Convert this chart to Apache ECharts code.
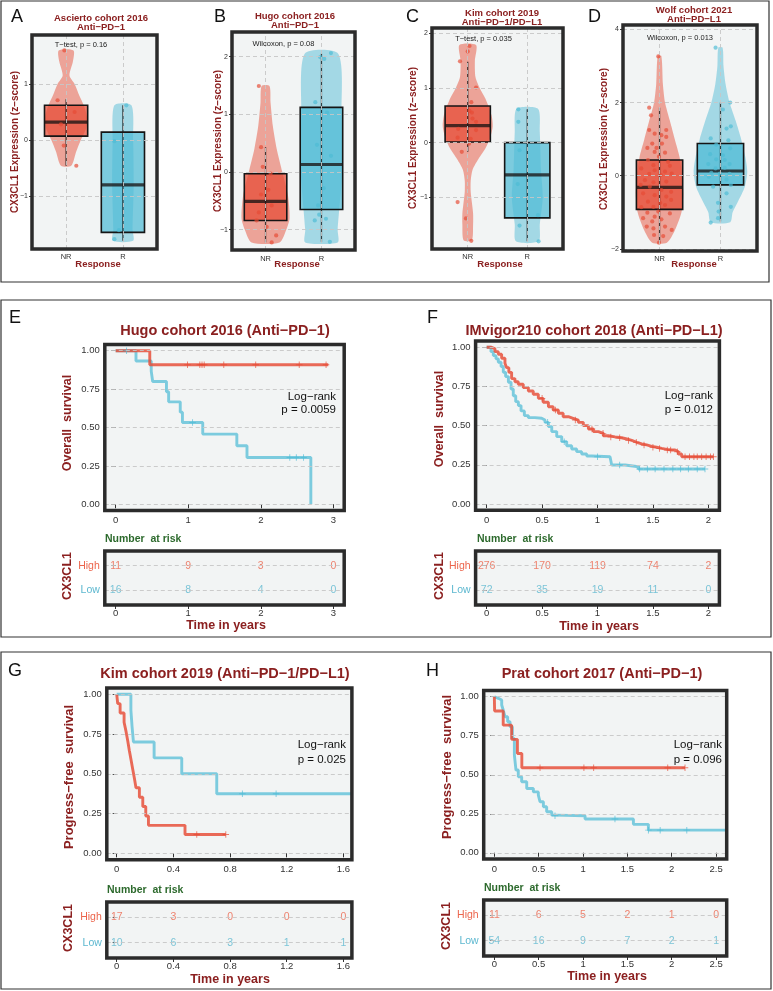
<!DOCTYPE html>
<html><head><meta charset="utf-8">
<script src="https://cdn.jsdelivr.net/npm/echarts@6.0.0/dist/echarts.min.js"></script>
<style>html,body{margin:0;padding:0;background:#fff}#c{width:773px;height:991px}</style>
</head><body><div id="c"></div>
<script>
// ---------------- DATA ----------------
const responseCats = ['NR', 'R'];
const riskRows = ['Low', 'High'];

// Panel A (Ascierto 2016)  box: [x, low, q1, median, q3, high]
const boxA = [[1, -0.46, 0.07, 0.32, 0.62, 0.73], [2, -1.8, -1.65, -0.8, 0.14, 0.62]];
const violinA_NR = [[1.6,0.13],[1.4,0.12],[1.15,0.06],[1.0,0.15],[0.8,0.23],[0.6,0.32],[0.4,0.37],[0.2,0.35],[0,0.26],[-0.2,0.18],[-0.46,0.09]];
const violinA_R = [[0.62,0.15],[0,0.18],[-0.8,0.19],[-1.6,0.17],[-1.8,0.18]];
const pointsA_NR = [[0.97,1.6],[0.85,0.71],[1.15,0.5],[0.91,0.28],[0.96,-0.1],[1.18,-0.46]];
const pointsA_R = [[2.06,0.62],[1.85,-0.02],[1.93,-1.61],[1.85,-1.77]];
const ticksA = [-1, 0, 1];

// Panel B (Hugo 2016)
const boxB = [[1, -1.22, -0.84, -0.51, -0.03, 0.43], [2, -1.21, -0.65, 0.13, 1.12, 2.05]];
const violinB_NR = [[1.49,0.07],[1.2,0.09],[0.8,0.13],[0.4,0.2],[0,0.3],[-0.4,0.4],[-0.8,0.43],[-1.0,0.37],[-1.22,0.25]];
const violinB_R = [[2.05,0.3],[1.0,0.36],[0,0.37],[-1.0,0.29],[-1.22,0.29]];
const pointsB_NR = [[0.88,1.49],[0.92,0.43],[0.95,0.09],[1.09,-0.03],[1.05,-0.31],[0.92,-0.39],[1.11,-0.58],[0.88,-0.7],[0.84,-0.84],[1.02,-0.95],[1.19,-1.1],[1.11,-1.22]];
const pointsB_R = [[2.17,2.06],[1.98,1.99],[2.05,1.96],[1.89,1.21],[2.1,1.03],[1.92,0.47],[2.17,0.28],[2.04,-0.28],[1.94,-0.58],[1.96,-0.74],[1.88,-0.84],[2.08,-0.81],[2.15,-1.21]];
const ticksB = [-1, 0, 1, 2];

// Panel C (Kim 2019)
const boxC = [[1, -0.17, 0.01, 0.31, 0.67, 1.48], [2, -1.81, -1.38, -0.59, 0.0, 0.61]];
const violinC_NR = [[1.79,0.14],[1.5,0.12],[1.2,0.13],[1.0,0.2],[0.8,0.3],[0.5,0.4],[0.3,0.42],[0.1,0.38],[-0.1,0.3],[-0.3,0.18],[-0.5,0.08],[-0.7,0.05],[-0.9,0.05],[-1.1,0.07],[-1.3,0.09],[-1.5,0.09],[-1.79,0.07]];
const violinC_R = [[0.62,0.18],[0.2,0.21],[-0.5,0.23],[-1.0,0.26],[-1.5,0.21],[-1.81,0.19]];
const pointsC_NR = [[1.03,1.77],[1.0,1.67],[0.87,1.49],[1.14,1.01],[1.06,0.74],[1.03,0.58],[1.07,0.55],[1.08,0.44],[1.14,0.38],[0.84,0.25],[1.14,0.23],[0.83,0.09],[1.05,0.07],[1.02,-0.02],[0.9,-0.17],[0.83,-1.09],[0.97,-1.39],[1.06,-1.8]];
const pointsC_R = [[1.85,0.61],[1.85,0.38],[1.87,-0.14],[1.84,-0.76],[2.18,-1.33],[1.87,-1.52],[2.19,-1.81]];
const ticksC = [-1, 0, 1, 2];

// Panel D (Wolf 2021)
const boxD = [[1, -1.83, -0.92, -0.32, 0.43, 1.86], [2, -1.25, -0.25, 0.13, 0.88, 2.0]];
const violinD_NR = [[3.27,0.03],[2.5,0.055],[2.0,0.09],[1.5,0.17],[1.0,0.25],[0.5,0.33],[0,0.37],[-0.5,0.39],[-1.0,0.36],[-1.5,0.25],[-1.83,0.12]];
const violinD_R = [[3.5,0.035],[3.0,0.05],[2.5,0.085],[2.0,0.15],[1.5,0.25],[1.0,0.34],[0.5,0.41],[0.1,0.44],[-0.3,0.4],[-0.7,0.29],[-1.0,0.2],[-1.27,0.16]];
const pointsD_NR = [[0.98,3.26],[0.83,1.86],[0.86,1.65],[0.83,1.25],[1.11,1.25],[0.92,1.15],[1.03,1.11],[1.11,1.06],[0.88,0.88],[0.8,0.76],[0.95,0.76],[1.04,0.88],[0.92,0.65],[1.09,0.63],[0.99,0.52],[0.81,0.43],[1.14,0.38],[0.9,0.29],[1.17,0.27],[0.7,0.2],[0.92,0.15],[1.09,0.11],[1.2,0.06],[0.83,0.05],[1.02,0.02],[0.76,-0.12],[0.9,-0.18],[1.11,-0.16],[0.69,-0.25],[0.84,-0.3],[1.03,-0.39],[1.19,-0.44],[0.73,-0.48],[0.92,-0.53],[1.11,-0.57],[0.81,-0.71],[1.01,-0.74],[1.19,-0.66],[0.7,-0.86],[0.9,-0.85],[1.09,-0.8],[0.8,-1.01],[0.98,-0.98],[1.17,-1.03],[0.73,-1.16],[0.92,-1.12],[1.03,-1.19],[0.88,-1.25],[0.79,-1.39],[1.09,-1.39],[0.9,-1.44],[1.2,-1.48],[0.91,-1.62],[1.06,-1.65],[0.99,-1.83]];
const pointsD_R = [[1.92,3.5],[2.16,2.0],[2.04,1.81],[2.17,1.35],[2.1,1.29],[1.84,1.02],[2.13,0.97],[1.93,0.85],[2.16,0.75],[1.83,0.59],[2.04,0.56],[1.93,0.45],[2.07,0.43],[1.8,0.32],[2.15,0.32],[1.92,0.2],[2.07,0.22],[1.85,0.08],[1.99,0.06],[2.15,0.05],[1.81,-0.03],[2.1,-0.1],[2.17,-0.25],[1.88,-0.3],[2.1,-0.48],[1.96,-0.74],[2.17,-0.85],[1.97,-0.98],[1.96,-1.16],[1.84,-1.28]];
const ticksD = [-2, 0, 2, 4];

// KM ticks
const survTicks = [0, 0.25, 0.5, 0.75, 1];

// Panel E (Hugo 2016, OS)  [time, survival]
const kmE_High = [[0,1],[0.47,0.909],[2.93,0.909]];
const kmE_Low = [[0,1],[0.28,0.933],[0.49,0.867],[0.51,0.8],[0.70,0.733],[0.73,0.667],[0.89,0.6],[0.92,0.533],[1.20,0.457],[1.67,0.381],[1.81,0.305],[2.69,0]];
const censE_High = [[0.99,0.909],[1.16,0.909],[1.19,0.909],[1.22,0.909],[1.49,0.909],[1.93,0.909],[2.53,0.909],[2.9,0.909]];
const censE_Low = [[0.15,1],[1.06,0.533],[2.4,0.305],[2.49,0.305],[2.59,0.305]];
const riskTimesE = [0, 1, 2, 3];
const riskHighE = [11, 9, 3, 0];
const riskLowE = [16, 8, 4, 0];

// Panel F (IMvigor210 2018, OS)
const kmF_High = [[0,1],[0.015,1],[0.045,0.99],[0.075,0.972],[0.105,0.955],[0.135,0.93],[0.165,0.898],[0.18,0.87],[0.2,0.84],[0.225,0.8],[0.255,0.78],[0.285,0.764],[0.33,0.743],[0.376,0.721],[0.42,0.7],[0.466,0.674],[0.51,0.649],[0.557,0.621],[0.6,0.6],[0.647,0.579],[0.69,0.557],[0.737,0.547],[0.78,0.536],[0.827,0.521],[0.872,0.5],[0.918,0.479],[0.963,0.462],[1.008,0.451],[1.053,0.436],[1.098,0.428],[1.158,0.423],[1.218,0.415],[1.264,0.406],[1.309,0.394],[1.354,0.383],[1.399,0.377],[1.444,0.368],[1.489,0.362],[1.534,0.355],[1.579,0.349],[1.625,0.345],[1.67,0.345],[1.7,0.334],[1.73,0.319],[1.76,0.302],[2.046,0.302]];
const kmF_Low = [[0,1],[0.015,1],[0.039,0.972],[0.06,0.947],[0.084,0.926],[0.105,0.904],[0.13,0.877],[0.15,0.84],[0.171,0.813],[0.196,0.777],[0.22,0.734],[0.24,0.691],[0.262,0.653],[0.286,0.628],[0.31,0.594],[0.34,0.564],[0.376,0.551],[0.436,0.547],[0.496,0.536],[0.526,0.521],[0.557,0.494],[0.587,0.462],[0.632,0.43],[0.677,0.398],[0.722,0.372],[0.767,0.351],[0.812,0.334],[0.857,0.319],[0.903,0.306],[0.948,0.302],[1.113,0.302],[1.128,0.249],[1.248,0.238],[1.369,0.223],[1.97,0.223]];
const censF_High = [[0.5,0.674],[0.62,0.6],[0.8,0.536],[0.95,0.479],[1.05,0.451],[1.12,0.428],[1.2,0.423],[1.28,0.406],[1.35,0.394],[1.42,0.377],[1.5,0.362],[1.56,0.355],[1.63,0.345],[1.66,0.345],[1.72,0.334],[1.79,0.302],[1.83,0.302],[1.87,0.302],[1.9,0.302],[1.94,0.302],[1.98,0.302],[2.02,0.302],[2.046,0.302]];
const censF_Low = [[0.55,0.521],[0.7,0.398],[1.0,0.302],[1.2,0.249],[1.38,0.223],[1.45,0.223],[1.52,0.223],[1.6,0.223],[1.68,0.223],[1.75,0.223],[1.82,0.223],[1.9,0.223],[1.97,0.223]];
const riskTimesF = [0, 0.5, 1, 1.5, 2];
const riskHighF = [276, 170, 119, 74, 2];
const riskLowF = [72, 35, 19, 11, 0];

// Panel G (Kim 2019, PFS)
const kmG_High = [[0,1],[0.007,0.941],[0.024,0.882],[0.052,0.824],[0.066,0.765],[0.078,0.706],[0.089,0.647],[0.101,0.588],[0.113,0.529],[0.125,0.471],[0.136,0.412],[0.16,0.353],[0.184,0.294],[0.205,0.235],[0.224,0.176],[0.482,0.118],[0.77,0.118]];
const kmG_Low = [[0,1],[0.1,0.9],[0.108,0.8],[0.118,0.7],[0.264,0.6],[0.459,0.5],[0.706,0.375],[1.66,0.375]];
const censG_High = [[0.565,0.118],[0.77,0.118]];
const censG_Low = [[0.887,0.375],[1.125,0.375]];
const riskTimesG = [0, 0.4, 0.8, 1.2, 1.6];
const riskHighG = [17, 3, 0, 0, 0];
const riskLowG = [10, 6, 3, 1, 1];

// Panel H (Prat 2017, PFS)
const kmH_High = [[0,1],[0.003,0.909],[0.1,0.818],[0.195,0.727],[0.26,0.636],[0.31,0.545],[2.15,0.545]];
const kmH_Low = [[0,1],[0.02,0.99],[0.045,0.979],[0.083,0.947],[0.1,0.915],[0.12,0.872],[0.15,0.84],[0.177,0.808],[0.203,0.733],[0.226,0.626],[0.244,0.53],[0.27,0.487],[0.308,0.455],[0.365,0.412],[0.44,0.39],[0.496,0.37],[0.515,0.327],[0.553,0.295],[0.59,0.263],[0.647,0.241],[0.68,0.237],[1.023,0.216],[1.568,0.182],[1.737,0.145],[2.62,0.145]];
const censH_High = [[0.515,0.545],[1.01,0.545],[1.12,0.545],[1.955,0.545],[2.15,0.545]];
const censH_Low = [[0.684,0.237],[1.36,0.216],[1.737,0.145],[1.87,0.145],[2.17,0.145]];
const riskTimesH = [0, 0.5, 1, 1.5, 2, 2.5];
const riskHighH = [11, 6, 5, 2, 1, 0];
const riskLowH = [54, 16, 9, 7, 2, 1];

// ---------------- STYLE / LAYOUT ----------------
const FONT = '"Liberation Sans", Arial, Helvetica, sans-serif';
const RED = [230, 75, 53], BLUE = [77, 187, 213];
const rgba = (c, a) => 'rgba(' + c[0] + ',' + c[1] + ',' + c[2] + ',' + a + ')';
const DARKRED = '#8B2020';
const GREEN = '#2D6A2D';
const HIGH_TXT = '#EC654C', LOW_TXT = '#5DB8D0';
const PANEL_BG = '#F2F4F4';
const MINUS = '\u2212';

const option = {
  animation: false, backgroundColor: '#ffffff',
  grid: [], xAxis: [], yAxis: [], series: [], graphic: { elements: [] }
};
const G = option.graphic.elements;

function addGrid(g) {
  option.grid.push({ left: g.left, top: g.top, width: g.width, height: g.height, show: true,
    backgroundColor: PANEL_BG, borderWidth: 0, containLabel: false, outerBoundsMode: 'none' });
  G.push({ type: 'rect', z: 100, silent: true,
    shape: { x: g.left, y: g.top, width: g.width, height: g.height },
    style: { fill: 'none', stroke: '#2B2B2B', lineWidth: 3.5 } });
  return option.grid.length - 1;
}
function axis(gi, min, max, ticks, fmt, o) {
  return { type: 'value', gridIndex: gi, min: min, max: max,
    axisLine: { show: false }, splitLine: { show: false },
    axisTick: { show: true, customValues: ticks, length: o.tickLen, lineStyle: { color: '#333', width: 1 } },
    axisLabel: { customValues: ticks, formatter: fmt, fontSize: o.fs, color: o.color || '#333',
      margin: o.margin, fontFamily: FONT } };
}
function gridLines(ai, list) {
  return { type: 'line', xAxisIndex: ai, yAxisIndex: ai, data: [], z: 1, silent: true,
    markLine: { silent: true, symbol: ['none', 'none'], label: { show: false }, animation: false,
      lineStyle: { type: [4, 3], color: '#C6C6C6', width: 0.9 }, emphasis: { disabled: true },
      data: list } };
}
function T(x, y, text, size, o) {
  o = o || {};
  const el = { type: 'text', x: x, y: y, z: 110, silent: true,
    style: { text: text, fontSize: size, fontFamily: FONT, fontWeight: o.bold ? 'bold' : 'normal',
      fill: o.color || '#111', align: o.align || 'center', verticalAlign: 'middle' } };
  if (o.rot) el.rotation = Math.PI / 2;
  G.push(el);
}

// outer boxes
[[1, 1, 768, 281], [1, 300, 770, 337], [1, 652, 770, 337]].forEach(function (b) {
  G.push({ type: 'rect', z: 90, silent: true, shape: { x: b[0], y: b[1], width: b[2], height: b[3] },
    style: { fill: 'none', stroke: '#333', lineWidth: 1.2 } });
});

// ---------------- TOP ROW (violin + box) ----------------
const yFmt = function (v) { return (v < 0 ? MINUS : '') + Math.abs(v); };
const catFmt = function (v) { return responseCats[Math.round(v) - 1]; };
const topPanels = [
  { g: { left: 32, top: 35, width: 125, height: 214 }, ymin: -1.946, ymax: 1.875, ticks: ticksA, box: boxA,
    vio: [violinA_NR, violinA_R], pts: [pointsA_NR, pointsA_R], xm: 3.5 },
  { g: { left: 232, top: 32, width: 123, height: 218 }, ymin: -1.352, ymax: 2.426, ticks: ticksB, box: boxB,
    vio: [violinB_NR, violinB_R], pts: [pointsB_NR, pointsB_R], xm: 4.5 },
  { g: { left: 432, top: 28, width: 131, height: 221 }, ymin: -1.95, ymax: 2.10, ticks: ticksC, box: boxC,
    vio: [violinC_NR, violinC_R], pts: [pointsC_NR, pointsC_R], xm: 3.5 },
  { g: { left: 623, top: 25, width: 134, height: 226 }, ymin: -2.057, ymax: 4.12, ticks: ticksD, box: boxD,
    vio: [violinD_NR, violinD_R], pts: [pointsD_NR, pointsD_R], xm: 4 }
];
const grpColors = [RED, BLUE];
topPanels.forEach(function (p) {
  const gi = addGrid(p.g);
  option.xAxis.push(axis(gi, 0.4, 2.6, [1, 2], catFmt, { tickLen: 3, fs: 7.5, margin: p.xm }));
  option.yAxis.push(axis(gi, p.ymin, p.ymax, p.ticks, yFmt, { tickLen: 3, fs: 7, margin: 4 }));
  option.series.push(gridLines(gi, p.ticks.map(function (t) { return { yAxis: t }; })
    .concat([1, 2].map(function (c) { return { xAxis: c }; }))));
  const profiles = p.vio;
  option.series.push({ type: 'custom', xAxisIndex: gi, yAxisIndex: gi, z: 2, silent: true,
    data: [[1, 0], [2, 0]], encode: { x: 0, y: 1 },
    renderItem: function (params, api) {
      const i = params.dataIndex, cx = api.value(0), prof = profiles[i];
      const right = prof.map(function (q) { return api.coord([cx + q[1], q[0]]); });
      const left = prof.slice().reverse().map(function (q) { return api.coord([cx - q[1], q[0]]); });
      return { type: 'polygon', shape: { points: right.concat(left), smooth: 0.25 },
        style: { fill: rgba(grpColors[i], 0.48), stroke: 'none' } };
    } });
  option.series.push({ type: 'custom', xAxisIndex: gi, yAxisIndex: gi, z: 3, silent: true,
    data: p.box, encode: { x: 0, y: [1, 2, 3, 4, 5] },
    renderItem: function (params, api) {
      const x = api.value(0), lo = api.value(1), q1 = api.value(2), md = api.value(3), q3 = api.value(4), hi = api.value(5);
      const w = 0.38;
      const pLo = api.coord([x, lo]), pHi = api.coord([x, hi]);
      const tl = api.coord([x - w, q3]), br = api.coord([x + w, q1]);
      const ml = api.coord([x - w, md]), mr = api.coord([x + w, md]);
      const c = grpColors[params.dataIndex];
      return { type: 'group', children: [
        { type: 'rect', shape: { x: tl[0], y: tl[1], width: br[0] - tl[0], height: br[1] - tl[1] },
          style: { fill: rgba(c, 0.72), stroke: '#151515', lineWidth: 1.6 } },
        { type: 'line', shape: { x1: pLo[0], y1: pLo[1], x2: pHi[0], y2: pHi[1] },
          style: { stroke: 'rgba(25,25,25,0.8)', lineWidth: 1.3 } },
        { type: 'line', shape: { x1: ml[0], y1: ml[1], x2: mr[0], y2: mr[1] },
          style: { stroke: 'rgba(25,20,20,0.78)', lineWidth: 3.2 } }
      ] };
    } });
  p.pts.forEach(function (pts, k) {
    option.series.push({ type: 'scatter', xAxisIndex: gi, yAxisIndex: gi, z: 4, silent: true,
      symbolSize: 4.2, itemStyle: { color: rgba(grpColors[k], 0.85) }, data: pts });
  });
});

// ---------------- KM + RISK TABLES ----------------
const PLUS = 'path://M-0.14,-1H0.14V-0.14H1V0.14H0.14V1H-0.14V0.14H-1V-0.14H-0.14Z';
const survFmt = function (v) { return v.toFixed(2); };
const timeFmt = function (v) { return String(v); };
const kmPanels = [
  { g: { left: 104.8, top: 344.6, width: 239.4, height: 165.8 }, xmin: -0.15, xmax: 3.15,
    r: { left: 104.8, top: 551, width: 239.4, height: 54 }, times: riskTimesE,
    hi: kmE_High, lo: kmE_Low, chi: censE_High, clo: censE_Low, rhi: riskHighE, rlo: riskLowE },
  { g: { left: 475.6, top: 341.0, width: 243.8, height: 169.3 }, xmin: -0.1, xmax: 2.1,
    r: { left: 475.6, top: 551, width: 243.8, height: 54 }, times: riskTimesF,
    hi: kmF_High, lo: kmF_Low, chi: censF_High, clo: censF_Low, rhi: riskHighF, rlo: riskLowF },
  { g: { left: 106.8, top: 687.9, width: 245.1, height: 171.8 }, xmin: -0.07, xmax: 1.66,
    r: { left: 106.8, top: 902, width: 245.1, height: 56 }, times: riskTimesG,
    hi: kmG_High, lo: kmG_Low, chi: censG_High, clo: censG_Low, rhi: riskHighG, rlo: riskLowG },
  { g: { left: 483.7, top: 690.5, width: 243.0, height: 168.5 }, xmin: -0.12, xmax: 2.62,
    r: { left: 483.7, top: 900, width: 243.0, height: 56 }, times: riskTimesH,
    hi: kmH_High, lo: kmH_Low, chi: censH_High, clo: censH_Low, rhi: riskHighH, rlo: riskLowH }
];
kmPanels.forEach(function (p) {
  const gi = addGrid(p.g);
  option.xAxis.push(axis(gi, p.xmin, p.xmax, p.times, timeFmt, { tickLen: 4, fs: 9.5, margin: 5 }));
  option.yAxis.push(axis(gi, -0.04, 1.04, survTicks, survFmt, { tickLen: 4, fs: 9.5, margin: 5 }));
  option.series.push(gridLines(gi, survTicks.map(function (t) { return { yAxis: t }; })));
  [[p.lo, BLUE, 0.72], [p.hi, RED, 0.82]].forEach(function (c) {
    option.series.push({ type: 'line', xAxisIndex: gi, yAxisIndex: gi, z: 3, silent: true, step: 'end',
      symbol: 'none', showSymbol: false, data: c[0], lineStyle: { width: 2.9, color: rgba(c[1], c[2]) } });
  });
  [[p.clo, BLUE], [p.chi, RED]].forEach(function (c) {
    option.series.push({ type: 'scatter', xAxisIndex: gi, yAxisIndex: gi, z: 4, silent: true,
      symbol: PLUS, symbolSize: 6.5, itemStyle: { color: rgba(c[1], 0.9) }, data: c[0] });
  });

  const ri = addGrid(p.r);
  option.xAxis.push(axis(ri, p.xmin, p.xmax, p.times, timeFmt, { tickLen: 4, fs: 9.5, margin: 3 }));
  const ry = axis(ri, 0.4, 2.6, [1, 2], function (v) { return riskRows[Math.round(v) - 1]; },
    { tickLen: 4, fs: 10.5, margin: 5 });
  ry.axisLabel.color = function (v) { return Math.round(Number(v)) === 2 ? HIGH_TXT : LOW_TXT; };
  option.yAxis.push(ry);
  option.series.push(gridLines(ri, [{ yAxis: 1 }, { yAxis: 2 }]));
  [[p.rhi, 2, HIGH_TXT], [p.rlo, 1, LOW_TXT]].forEach(function (c) {
    option.series.push({ type: 'scatter', xAxisIndex: ri, yAxisIndex: ri, z: 4, silent: true,
      symbolSize: 1, itemStyle: { color: 'transparent' },
      data: p.times.map(function (t, i) { return [t, c[1], c[0][i]]; }),
      label: { show: true, position: 'inside', formatter: function (q) { return String(q.value[2]); },
        fontSize: 10.5, color: c[2], fontFamily: FONT } });
  });
});

// ---------------- TEXTS ----------------
[['A', 11, 17], ['B', 214, 17], ['C', 406, 17], ['D', 588, 17], ['E', 9, 318], ['F', 427, 318], ['G', 8, 671], ['H', 426, 671]]
  .forEach(function (l) { T(l[1], l[2], l[0], 18, { align: 'left', color: '#111' }); });

const tt = { bold: true, color: DARKRED };
T(101, 18, 'Ascierto cohort 2016', 9.5, tt); T(101, 27, 'Anti' + MINUS + 'PD' + MINUS + '1', 9.5, tt);
T(295, 16, 'Hugo cohort 2016', 9.5, tt); T(295, 25, 'Anti' + MINUS + 'PD' + MINUS + '1', 9.5, tt);
T(502, 13, 'Kim cohort 2019', 9.5, tt); T(502, 22, 'Anti' + MINUS + 'PD' + MINUS + '1/PD' + MINUS + 'L1', 9.5, tt);
T(694, 10, 'Wolf cohort 2021', 9.5, tt); T(694, 19, 'Anti' + MINUS + 'PD' + MINUS + 'L1', 9.5, tt);

const st = { color: '#222' };
T(81, 45, 'T' + MINUS + 'test, p = 0.16', 7.5, st);
T(283.5, 43.5, 'Wilcoxon, p = 0.08', 7.5, st);
T(483.5, 39, 'T' + MINUS + 'test, p = 0.035', 7.5, st);
T(680, 38, 'Wilcoxon, p = 0.013', 7.5, st);

const yt = 'CX3CL1 Expression (z' + MINUS + 'score)';
[[15, 142], [218, 141], [413, 138], [604, 139]].forEach(function (c) { T(c[0], c[1], yt, 10, { bold: true, color: DARKRED, rot: true }); });
[[98, 264], [297, 264], [500, 264], [694, 264]].forEach(function (c) { T(c[0], c[1], 'Response', 9.5, { bold: true, color: DARKRED }); });

T(225, 331, 'Hugo cohort 2016 (Anti' + MINUS + 'PD' + MINUS + '1)', 14.5, tt);
T(594, 331, 'IMvigor210 cohort 2018 (Anti' + MINUS + 'PD' + MINUS + 'L1)', 14.5, tt);
T(225, 674, 'Kim cohort 2019 (Anti' + MINUS + 'PD' + MINUS + '1/PD' + MINUS + 'L1)', 14.5, tt);
T(602, 674, 'Prat cohort 2017 (Anti' + MINUS + 'PD' + MINUS + '1)', 14.5, tt);

const rt = { bold: true, color: DARKRED, rot: true };
T(68, 423, 'Overall  survival', 12.5, rt);
T(440, 419, 'Overall  survival', 12.5, rt);
T(69, 777, 'Progress' + MINUS + 'free  survival', 13, rt);
T(447, 767, 'Progress' + MINUS + 'free  survival', 13, rt);
T(68, 576, 'CX3CL1', 12.5, rt); T(440, 576, 'CX3CL1', 12.5, rt);
T(69, 928, 'CX3CL1', 12.5, rt); T(447, 926, 'CX3CL1', 12.5, rt);

const nr = { bold: true, color: GREEN, align: 'left' };
T(105, 539, 'Number  at risk', 10.5, nr); T(477, 539, 'Number  at risk', 10.5, nr);
T(107, 890, 'Number  at risk', 10.5, nr); T(484, 888, 'Number  at risk', 10.5, nr);

const lr = { color: '#111', align: 'right' };
T(336, 397, 'Log' + MINUS + 'rank', 11.5, lr); T(336, 410, 'p = 0.0059', 11.5, lr);
T(713, 396, 'Log' + MINUS + 'rank', 11.5, lr); T(713, 410, 'p = 0.012', 11.5, lr);
T(346, 745, 'Log' + MINUS + 'rank', 11.5, lr); T(346, 760, 'p = 0.025', 11.5, lr);
T(722, 745, 'Log' + MINUS + 'rank', 11.5, lr); T(722, 760, 'p = 0.096', 11.5, lr);

const ty = { bold: true, color: DARKRED };
T(226, 626, 'Time in years', 12.5, ty); T(599, 627, 'Time in years', 12.5, ty);
T(230, 980, 'Time in years', 12.5, ty); T(607, 977, 'Time in years', 12.5, ty);

const chart = echarts.init(document.getElementById('c'), null, { renderer: 'canvas' });
chart.setOption(option);
</script></body></html>
